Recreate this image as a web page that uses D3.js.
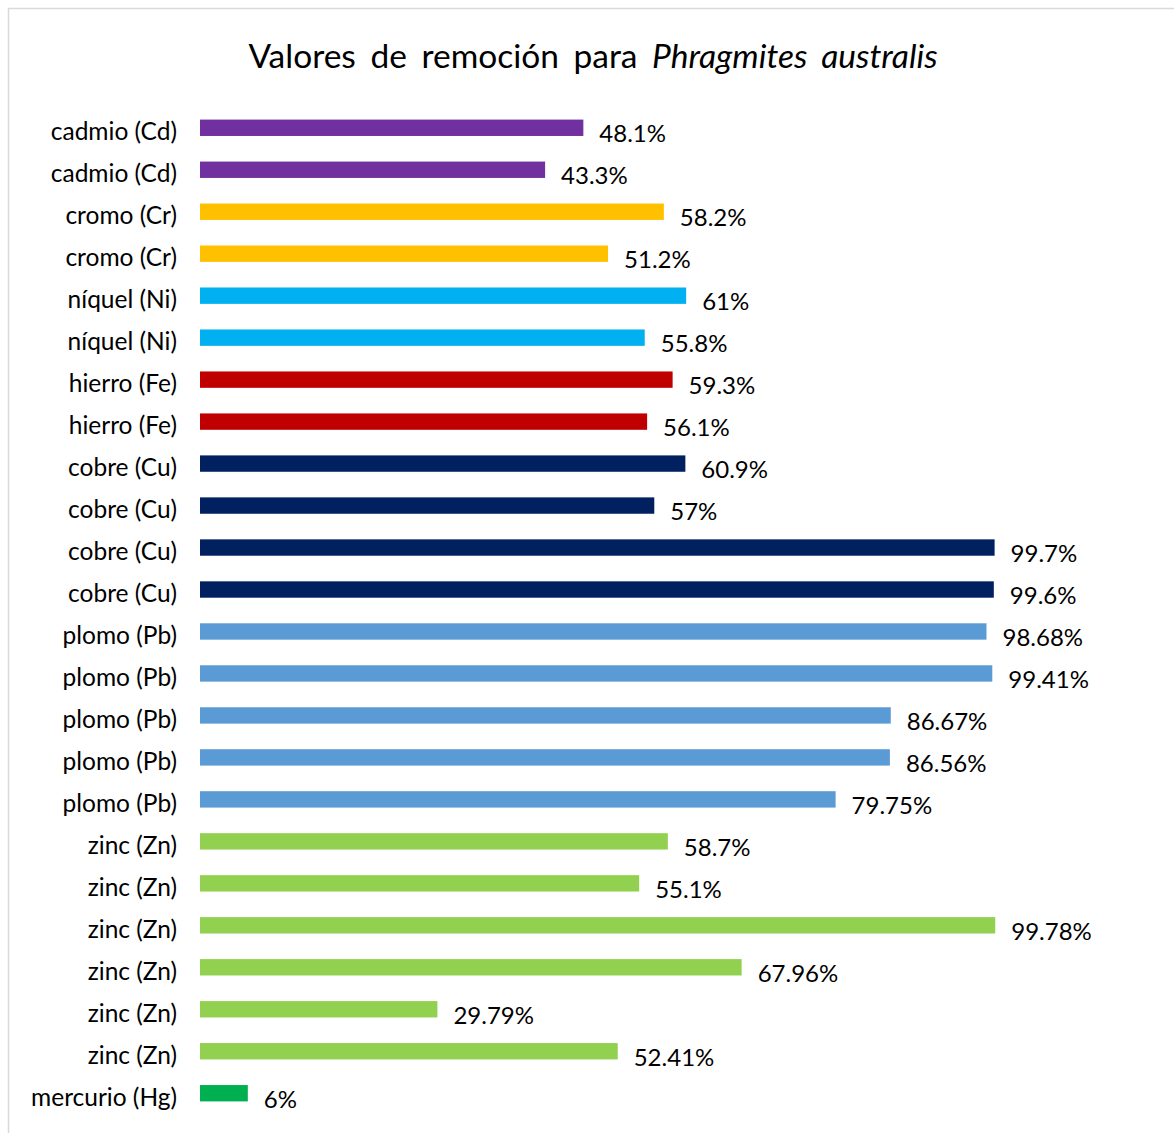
<!DOCTYPE html>
<html>
<head>
<meta charset="utf-8">
<script src="https://cdn.jsdelivr.net/npm/d3@7"></script>
<style>
  body { margin: 0; background: #fff; }
  text { font-family: Lato, "Open Sans", sans-serif; fill: #000; }
</style>
</head>
<body>
<div id="chart"></div>
<script>
// data, top to bottom as in the picture
const categories = [
    'cadmio (Cd)', 'cadmio (Cd)',
    'cromo (Cr)', 'cromo (Cr)',
    'níquel (Ni)', 'níquel (Ni)',
    'hierro (Fe)', 'hierro (Fe)',
    'cobre (Cu)', 'cobre (Cu)', 'cobre (Cu)', 'cobre (Cu)',
    'plomo (Pb)', 'plomo (Pb)', 'plomo (Pb)', 'plomo (Pb)', 'plomo (Pb)',
    'zinc (Zn)', 'zinc (Zn)', 'zinc (Zn)', 'zinc (Zn)', 'zinc (Zn)', 'zinc (Zn)',
    'mercurio (Hg)'
];
const values = [
    48.1, 43.3,
    58.2, 51.2,
    61, 55.8,
    59.3, 56.1,
    60.9, 57, 99.7, 99.6,
    98.68, 99.41, 86.67, 86.56, 79.75,
    58.7, 55.1, 99.78, 67.96, 29.79, 52.41,
    6
];
const valueLabels = [
    '48.1%', '43.3%',
    '58.2%', '51.2%',
    '61%', '55.8%',
    '59.3%', '56.1%',
    '60.9%', '57%', '99.7%', '99.6%',
    '98.68%', '99.41%', '86.67%', '86.56%', '79.75%',
    '58.7%', '55.1%', '99.78%', '67.96%', '29.79%', '52.41%',
    '6%'
];
const metalColors = {
    'cadmio (Cd)': '#7030A0',
    'cromo (Cr)': '#FFC000',
    'níquel (Ni)': '#00B0F0',
    'hierro (Fe)': '#C00000',
    'cobre (Cu)': '#002060',
    'plomo (Pb)': '#5B9BD5',
    'zinc (Zn)': '#92D050',
    'mercurio (Hg)': '#00B050'
};

const width = 1174, height = 1133;

const svg = d3.select('#chart')
    .append('svg')
    .attr('width', width)
    .attr('height', height);

// chart frame
svg.append('rect')
    .attr('x', 8.5).attr('y', 8.5)
    .attr('width', width).attr('height', height)
    .attr('fill', 'none')
    .attr('stroke', '#d9d9d9')
    .attr('stroke-width', 1.5);

// title
const title = svg.append('text')
    .attr('x', 593)
    .attr('y', 68)
    .attr('text-anchor', 'middle')
    .style('font-size', '33.5px')
    .style('word-spacing', '6px');
title.append('tspan').text('Valores de remoción para ');
title.append('tspan').style('font-style', 'italic').text('Phragmites australis');

const idx = d3.range(values.length);

const x = d3.scaleLinear().domain([0, 100]).range([200, 997]);
const y = d3.scaleBand()
    .domain(idx)
    .range([107, 1114])
    .paddingInner(0.61)
    .paddingOuter(0.3);

svg.selectAll('rect.bar')
    .data(idx)
    .enter()
    .append('rect')
    .attr('class', 'bar')
    .attr('x', x(0))
    .attr('y', i => y(i))
    .attr('width', i => x(values[i]) - x(0))
    .attr('height', y.bandwidth())
    .attr('fill', i => metalColors[categories[i]]);

// category labels
svg.selectAll('text.cat')
    .data(idx)
    .enter()
    .append('text')
    .attr('class', 'cat')
    .attr('x', 177)
    .attr('y', i => y(i) + y.bandwidth() / 2 + 4)
    .attr('dy', '0.35em')
    .attr('text-anchor', 'end')
    .style('font-size', '24.5px')
    .text(i => categories[i]);

// value labels
svg.selectAll('text.val')
    .data(idx)
    .enter()
    .append('text')
    .attr('class', 'val')
    .attr('x', i => x(values[i]) + 16)
    .attr('y', i => y(i) + y.bandwidth() / 2 + 6)
    .attr('dy', '0.35em')
    .style('font-size', '24px')
    .text(i => valueLabels[i]);
</script>
</body>
</html>
